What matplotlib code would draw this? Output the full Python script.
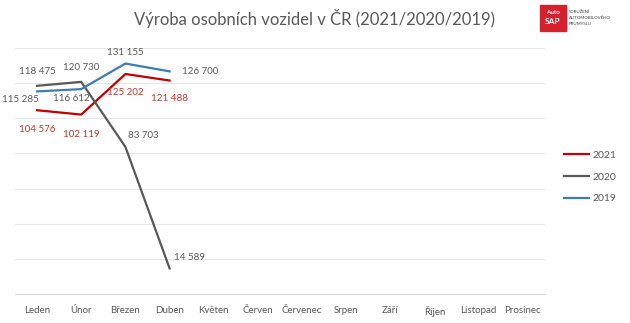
import matplotlib
matplotlib.use("Agg")
import matplotlib.pyplot as plt
from matplotlib.patches import Rectangle

months = ["Leden", "Únor", "Březen", "Duben", "Květen", "Červen", "Červenec",
          "Srpen", "Září", "Říjen", "Listopad", "Prosinec"]
v2021 = [104576, 102119, 125202, 121488]
v2020 = [118475, 120730, 83703, 14589]
v2019 = [115285, 116612, 131155, 126700]
series_names = ["2021", "2020", "2019"]

c2021 = "#C00000"
c2021_lbl = "#C0392B"
c2020 = "#595959"
c2019 = "#3E7CB1"
txt = "#595959"

plt.rcParams['font.family'] = ['Lato', 'DejaVu Sans']

fig = plt.figure(figsize=(6.3, 3.23), dpi=100)
ax = fig.add_axes([15/630, 1-294/323, 530/630, 246/323])

x = list(range(len(months)))
ax.plot(x[:len(v2021)], v2021, color=c2021, lw=1.6, label=series_names[0], zorder=3)
ax.plot(x[:len(v2020)], v2020, color=c2020, lw=1.6, label=series_names[1], zorder=3)
ax.plot(x[:len(v2019)], v2019, color=c2019, lw=1.6, label=series_names[2], zorder=3)

ax.set_xlim(-0.5, len(months) - 0.5)
ax.set_ylim(0, 140000)
ax.set_yticks(range(0, 140001, 20000))
ax.yaxis.grid(True, color="#E6E6E6", lw=0.8)
ax.set_axisbelow(True)
ax.tick_params(axis='y', left=False, labelleft=False)
ax.tick_params(axis='x', bottom=False, labelsize=7, labelcolor=txt, pad=5)
ax.set_xticks(x)
ax.set_xticklabels(months)
for s in ["top", "right", "left"]:
    ax.spines[s].set_visible(False)
ax.spines["bottom"].set_color("#D9D9D9")
ax.spines["bottom"].set_linewidth(0.8)

def fmt(v):
    return f"{v:,}".replace(",", " ")

fs = 7
# 2021 labels (below)
offs2021 = [(0, -14), (0, -14), (0, -13), (0, -13)]
for i, v in enumerate(v2021):
    ax.annotate(fmt(v), (i, v), xytext=offs2021[i], textcoords="offset points",
                ha="center", va="center", fontsize=fs, color=c2021_lbl)
# 2020 labels
offs2020 = [(0, 10), (0, 10), (2, 8), (3, 8)]
has2020 = ["center", "center", "left", "left"]
for i, v in enumerate(v2020):
    ax.annotate(fmt(v), (i, v), xytext=offs2020[i], textcoords="offset points",
                ha=has2020[i], va="center", fontsize=fs, color=c2020)
# 2019 labels
offs2019 = [(-12, -6), (-7, -7), (0, 8), (9, 0)]
has2019 = ["center", "center", "center", "left"]
for i, v in enumerate(v2019):
    ax.annotate(fmt(v), (i, v), xytext=offs2019[i], textcoords="offset points",
                ha=has2019[i], va="center", fontsize=fs, color=c2020)

leg = fig.legend(loc="center left", bbox_to_anchor=(555/630, 1-177/323), frameon=False,
                 fontsize=7.5, handlelength=2.4, handletextpad=0.3, labelspacing=1.2,
                 labelcolor=txt)

fig.text(314/630, 1-18/323, "Výroba osobních vozidel v ČR (2021/2020/2019)",
         ha="center", va="center", fontsize=12, color=txt, fontweight="normal")

# logo
fig.patches.append(Rectangle((540/630, 1-31/323), 26/630, 26/323,
                             transform=fig.transFigure, color="#D7202E", zorder=5))
fig.text(553/630, 1-13/323, "Auto", ha="center", va="center", fontsize=4.5,
         color="white", fontweight="bold", zorder=6)
fig.text(553/630, 1-21/323, "SAP", ha="center", va="center", fontsize=6,
         color="white", fontweight="bold", zorder=6)
for k, t in enumerate(["SDRUŽENÍ", "AUTOMOBILOVÉHO", "PRŮMYSLU"]):
    fig.text(569/630, 1-(12 + 6*k)/323, t, ha="left", va="center", fontsize=3.2,
             color="#404040")

fig.savefig("out.png", dpi=100, facecolor="white")
